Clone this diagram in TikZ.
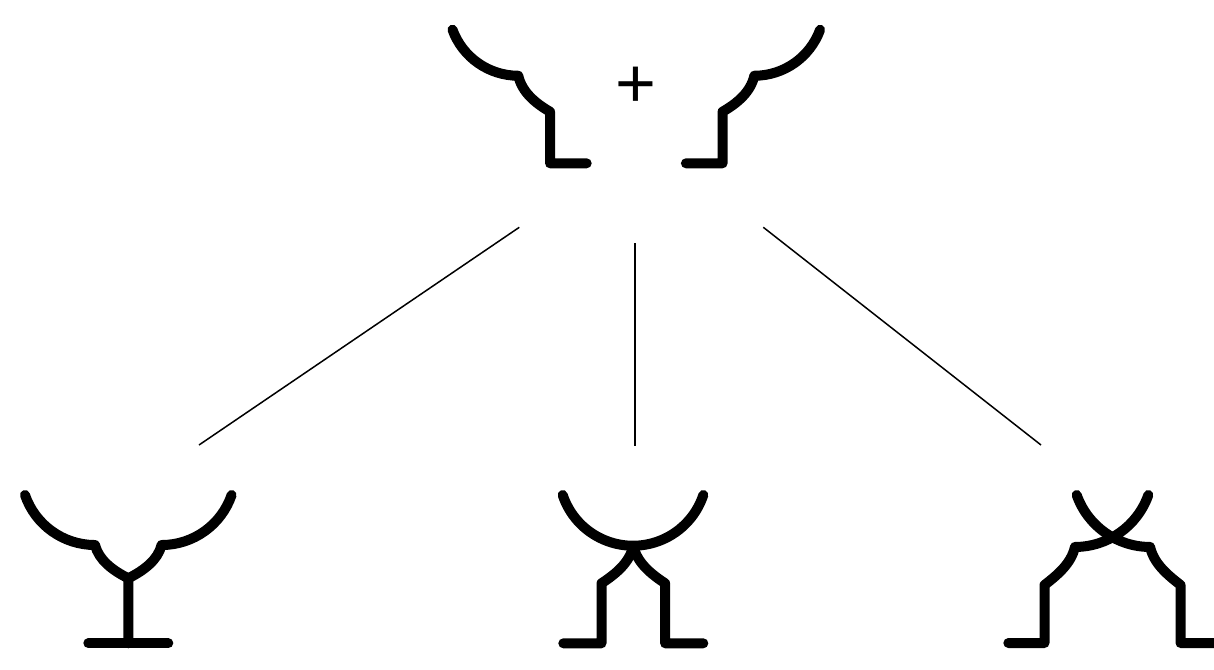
\documentclass[tikz,border=0pt]{standalone}
\usepackage{fontspec}
\newfontfamily\plusfont{Liberation Sans}
\begin{document}
\begin{tikzpicture}[x=1pt,y=-1pt,
  curve/.style={line width=10pt, line cap=round, line join=round},
  link/.style={line width=1.5pt}]
\useasboundingbox (0,0) rectangle (1214,669);
% ---------- top pair ----------
\draw[curve] (452.5,29.7) arc[start angle=160, end angle=90, radius=70]
  .. controls (522,92) and (535,103) .. (550,111.7) -- (550,163.3) -- (586.7,163.3);
\draw[curve] (820.1,29.7) arc[start angle=20, end angle=90, radius=70]
  .. controls (750.6,92) and (737.6,103) .. (722.6,111.7) -- (722.6,163.3) -- (685.9,163.3);
\node[font=\plusfont\fontsize{70}{70}\selectfont, inner sep=0pt, anchor=base] (plus) at (636.3,107.6) {+};
% ---------- connectors ----------
\coordinate (tl) at (519.3,227.3);
\coordinate (bl) at (199,445);
\coordinate (tm) at (635,243);
\coordinate (bm) at (635,446);
\coordinate (tr) at (763.3,227.3);
\coordinate (br) at (1041,445);
\draw[link] (tl) -- (bl);
\draw[link] (tm) -- (bm);
\draw[link] (tr) -- (br);
% ---------- bottom left ----------
\draw[curve] (25,495) arc[start angle=161.1, end angle=90, radius=74]
  .. controls (98.9,560.1) and (112.5,570.3) .. (128.3,578.3) -- (128.3,643.3);
\draw[curve] (231.6,495) arc[start angle=18.9, end angle=90, radius=74]
  .. controls (157.7,560.1) and (144.1,570.3) .. (128.3,578.3);
\draw[curve] (88.3,643.3) -- (168.3,643.3);
% ---------- bottom middle ----------
\draw[curve] (562.7,495) arc[start angle=161.6, end angle=18.4, radius=74.1];
\draw[curve] (633.3,546) .. controls (629.6,562.4) and (616.4,573.5) .. (601.5,583.3)
  -- (601.5,643.3) -- (563.3,643.3);
\draw[curve] (633.3,546) .. controls (637,562.4) and (650.2,573.5) .. (665.1,583.3)
  -- (665.1,643.3) -- (703.3,643.3);
% ---------- bottom right ----------
\draw[curve] (1076.7,495) arc[start angle=160.6, end angle=90, radius=77.8]
  .. controls (1153.8,563.4) and (1167,574.5) .. (1180.5,585) -- (1180.5,643) -- (1217,643);
\draw[curve] (1148.3,495) arc[start angle=19.4, end angle=90, radius=77.8]
  .. controls (1071.2,563.4) and (1058,574.5) .. (1044.5,585) -- (1044.5,643) -- (1008.3,643);
\end{tikzpicture}
\end{document}
